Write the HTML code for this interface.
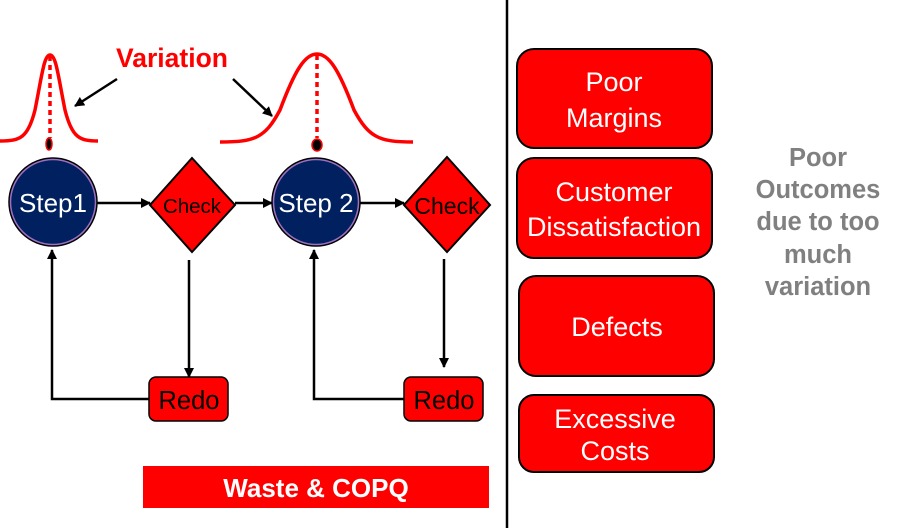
<!DOCTYPE html>
<html><head><meta charset="utf-8"><style>
html,body{margin:0;padding:0;background:#fff;width:914px;height:528px;overflow:hidden}
svg text{font-family:"Liberation Sans",sans-serif}
</style></head><body>
<svg width="914" height="528" viewBox="0 0 914 528" xmlns="http://www.w3.org/2000/svg">
<defs>
<marker id="ah" markerWidth="10" markerHeight="10" refX="9" refY="5" orient="auto" markerUnits="userSpaceOnUse">
<path d="M0,0 L10,5 L0,10 z" fill="#000"/></marker>
</defs>
<line x1="507" y1="0" x2="507" y2="528" stroke="#000" stroke-width="2.5"/>
<path d="M0,141 C20,141 28,138 35,110 C42,75 44,55 50,55 C56,55 58,75 65,110 C72,138 80,141 98,141" fill="none" stroke="#f00" stroke-width="3.5"/>
<path d="M220,142 C255,142 265,138 280,110 C295,70 305,54 317,54 C329,54 339,70 354,110 C369,138 380,142 413,142" fill="none" stroke="#f00" stroke-width="3.5"/>
<line x1="50" y1="56" x2="50" y2="138" stroke="#f00" stroke-width="3.5" stroke-dasharray="5,4"/>
<line x1="317" y1="55" x2="317" y2="138" stroke="#f00" stroke-width="3.5" stroke-dasharray="5,4"/>
<ellipse cx="49" cy="144" rx="3" ry="6" fill="#000" stroke="#f00" stroke-width="1.5"/>
<ellipse cx="317" cy="145" rx="5" ry="6" fill="#000" stroke="#f00" stroke-width="1.5"/>
<text x="172" y="67" font-size="26.5" font-weight="bold" fill="#f00" text-anchor="middle">Variation</text>
<line x1="117" y1="79" x2="75" y2="106" stroke="#000" stroke-width="2.5" marker-end="url(#ah)"/>
<line x1="233" y1="79" x2="272" y2="116" stroke="#000" stroke-width="2.5" marker-end="url(#ah)"/>
<circle cx="53" cy="202" r="44" fill="#002060" stroke="#000" stroke-width="1.5"/>
<circle cx="53" cy="202" r="42.5" fill="none" stroke="#a070c0" stroke-width="1.5"/>
<circle cx="316" cy="202" r="44" fill="#002060" stroke="#000" stroke-width="1.5"/>
<circle cx="316" cy="202" r="42.5" fill="none" stroke="#a070c0" stroke-width="1.5"/>
<text x="53" y="212" font-size="26" fill="#fff" text-anchor="middle">Step1</text>
<text x="316" y="212" font-size="26" fill="#fff" text-anchor="middle">Step 2</text>
<polygon points="192,158 235,205 192,252 150,205" fill="#f00" stroke="#000" stroke-width="2"/>
<polygon points="447,157 490,205 447,252 404,205" fill="#f00" stroke="#000" stroke-width="2"/>
<text x="192" y="213" font-size="20.5" fill="#000" text-anchor="middle">Check</text>
<text x="447" y="214" font-size="23" fill="#000" text-anchor="middle">Check</text>
<line x1="97" y1="203" x2="150" y2="203" stroke="#000" stroke-width="2.5" marker-end="url(#ah)"/>
<line x1="235" y1="203" x2="272" y2="203" stroke="#000" stroke-width="2.5" marker-end="url(#ah)"/>
<line x1="360" y1="203" x2="404" y2="203" stroke="#000" stroke-width="2.5" marker-end="url(#ah)"/>
<line x1="189" y1="260" x2="189" y2="377" stroke="#000" stroke-width="2.5" marker-end="url(#ah)"/>
<line x1="444" y1="259" x2="444" y2="367" stroke="#000" stroke-width="2.5" marker-end="url(#ah)"/>
<polyline points="149,399 52,399 52,250" fill="none" stroke="#000" stroke-width="2.5" marker-end="url(#ah)"/>
<polyline points="404,399 314,399 314,250" fill="none" stroke="#000" stroke-width="2.5" marker-end="url(#ah)"/>
<rect x="149" y="377" width="79" height="44" rx="7" fill="#f00" stroke="#000" stroke-width="1.5"/>
<rect x="404" y="377" width="79" height="44" rx="7" fill="#f00" stroke="#000" stroke-width="1.5"/>
<text x="189" y="409" font-size="25.5" fill="#000" text-anchor="middle">Redo</text>
<text x="444" y="409" font-size="25.5" fill="#000" text-anchor="middle">Redo</text>
<rect x="143" y="466" width="346" height="42" fill="#f00"/>
<text x="316" y="497" font-size="26" font-weight="bold" fill="#fff" text-anchor="middle">Waste &amp; COPQ</text>
<rect x="517" y="49" width="195" height="99" rx="17" fill="#f00" stroke="#000" stroke-width="2"/>
<rect x="517" y="158" width="195" height="100" rx="17" fill="#f00" stroke="#000" stroke-width="2"/>
<rect x="519" y="276" width="195" height="100" rx="17" fill="#f00" stroke="#000" stroke-width="2"/>
<rect x="519" y="395" width="195" height="77" rx="15" fill="#f00" stroke="#000" stroke-width="2"/>
<g font-size="27" fill="#fff" text-anchor="middle">
<text x="614" y="91">Poor</text>
<text x="614" y="127">Margins</text>
<text x="614" y="201">Customer</text>
<text x="614" y="236">Dissatisfaction</text>
<text x="617" y="336">Defects</text>
<text x="615" y="428">Excessive</text>
<text x="615" y="460">Costs</text>
</g>
<g font-size="25.5" font-weight="bold" fill="#808080" text-anchor="middle">
<text x="818" y="166">Poor</text>
<text x="818" y="198">Outcomes</text>
<text x="818" y="230">due to too</text>
<text x="818" y="263">much</text>
<text x="818" y="295">variation</text>
</g>
</svg>
</body></html>
